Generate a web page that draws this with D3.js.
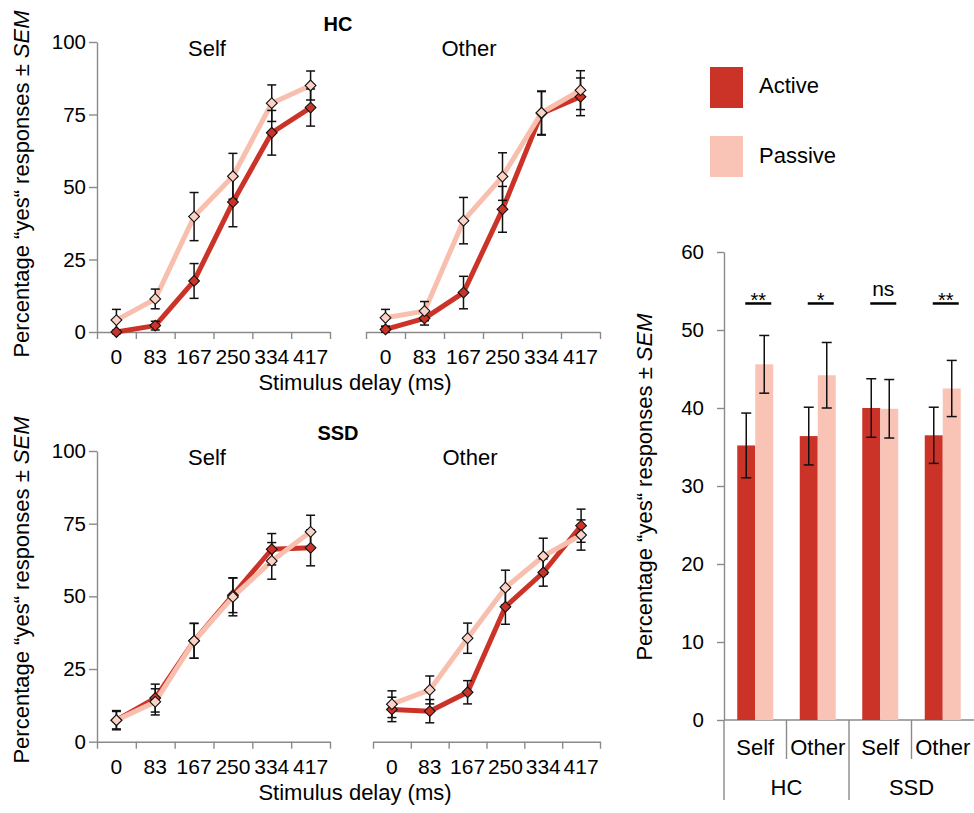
<!DOCTYPE html>
<html>
<head>
<meta charset="utf-8">
<script src="https://cdn.jsdelivr.net/npm/d3@7/dist/d3.min.js"></script>
<style>
  html, body { margin: 0; padding: 0; background: #fff; }
  svg { display: block; font-family: "Liberation Sans", Arial, sans-serif; }
</style>
</head>
<body>
<svg id="chart" width="974" height="813"></svg>
<script>
// ---------- DATA ----------
const delays = ["0", "83", "167", "250", "334", "417"];
const lineTicks = [0, 25, 50, 75, 100];

const hcSelfActive      = [0.0, 2.2, 17.6, 44.8, 68.7, 77.4];
const hcSelfActiveErr   = [0.6, 1.5, 6.0, 8.5, 7.7, 6.4];
const hcSelfPassive     = [4.1, 11.4, 39.8, 53.7, 78.9, 85.0];
const hcSelfPassiveErr  = [3.7, 3.4, 8.3, 7.9, 6.3, 5.0];

const hcOtherActive     = [0.9, 4.7, 13.6, 42.3, 75.4, 81.1];
const hcOtherActiveErr  = [1.0, 2.3, 5.6, 7.9, 7.5, 6.5];
const hcOtherPassive    = [4.9, 7.2, 38.4, 53.6, 75.6, 83.4];
const hcOtherPassiveErr = [2.9, 3.3, 8.0, 8.2, 7.5, 6.7];

const ssdSelfActive     = [7.4, 15.0, 34.7, 50.4, 66.2, 66.7];
const ssdSelfActiveErr  = [3.3, 4.8, 6.0, 6.0, 5.4, 6.2];
const ssdSelfPassive    = [7.4, 13.7, 34.7, 49.8, 62.2, 72.2];
const ssdSelfPassiveErr = [3.0, 4.5, 6.0, 6.5, 6.3, 5.7];

const ssdOtherActive     = [11.1, 10.5, 17.0, 46.4, 58.2, 74.3];
const ssdOtherActiveErr  = [4.2, 4.0, 4.0, 6.0, 4.7, 5.7];
const ssdOtherPassive    = [12.9, 17.8, 35.6, 53.0, 63.8, 71.1];
const ssdOtherPassiveErr = [4.6, 4.8, 5.2, 6.0, 6.2, 5.2];

const barGroups = ["HC", "SSD"];
const barConditions = ["Self", "Other"];
const barSeries = ["Active", "Passive"];
const barActive     = [35.2, 36.4, 40.0, 36.5];
const barActiveErr  = [4.15, 3.7, 3.75, 3.6];
const barPassive    = [45.6, 44.2, 39.9, 42.5];
const barPassiveErr = [3.7, 4.2, 3.75, 3.6];
const significance  = ["**", "*", "ns", "**"];
const barTicks = [0, 10, 20, 30, 40, 50, 60];
const sigLevel = 53.4;

// ---------- STYLE ----------
const activeColor = "#cc3328";
const passiveColor = "#f9c4b6";
const passiveLine = "#f8bfae";
const passiveMarker = "#fbd2c6";
const axisColor = "#8a8a8a";
const LABEL = 22;

const svg = d3.select("#chart");

// ---------- LINE PANELS ----------
const panels = [
  { x0: 97,  x1: 330, yTop: 42,  yBot: 332,   yAxis: true,  title: "Self",  titleX: 207,
    a: hcSelfActive, ae: hcSelfActiveErr, p: hcSelfPassive, pe: hcSelfPassiveErr },
  { x0: 366, x1: 600, yTop: 42,  yBot: 332,   yAxis: false, title: "Other", titleX: 469,
    a: hcOtherActive, ae: hcOtherActiveErr, p: hcOtherPassive, pe: hcOtherPassiveErr },
  { x0: 97,  x1: 330, yTop: 451, yBot: 741.7, yAxis: true,  title: "Self",  titleX: 207,
    a: ssdSelfActive, ae: ssdSelfActiveErr, p: ssdSelfPassive, pe: ssdSelfPassiveErr },
  { x0: 373, x1: 600, yTop: 451, yBot: 741.7, yAxis: false, title: "Other", titleX: 470,
    a: ssdOtherActive, ae: ssdOtherActiveErr, p: ssdOtherPassive, pe: ssdOtherPassiveErr }
];

function styleAxis(g, fs) {
  g.selectAll(".domain").attr("stroke", axisColor).attr("stroke-width", 1.4);
  g.selectAll(".tick line").attr("stroke", axisColor).attr("stroke-width", 1.4);
  g.selectAll(".tick text").attr("fill", "#000").attr("font-size", fs || 20)
    .attr("font-family", '"Liberation Sans", Arial, sans-serif');
}

const diamond = d3.symbol().type(d3.symbolSquare).size(58);

panels.forEach(pn => {
  const x = d3.scaleBand().domain(delays).range([pn.x0, pn.x1]);
  const xb = d3.scaleLinear().domain([0, delays.length]).range([pn.x0, pn.x1]);
  const y = d3.scaleLinear().domain([0, 100]).range([pn.yBot, pn.yTop]);
  const g = svg.append("g");

  const gx = g.append("g").attr("transform", `translate(0,${pn.yBot})`)
    .call(d3.axisBottom(xb).tickValues(d3.range(0, delays.length + 1)).tickFormat("").tickSize(7).tickSizeOuter(0));
  styleAxis(gx);
  const gxl = g.append("g").attr("transform", `translate(0,${pn.yBot})`)
    .call(d3.axisBottom(x).tickSize(0).tickPadding(17));
  gxl.select(".domain").remove();
  styleAxis(gxl, 21);

  if (pn.yAxis) {
    const gy = g.append("g").attr("transform", `translate(${pn.x0},0)`)
      .call(d3.axisLeft(y).tickValues(lineTicks).tickSize(8).tickSizeOuter(0).tickPadding(3));
    styleAxis(gy, 20.5);
  }

  g.append("text").attr("x", pn.titleX).attr("y", pn.yTop + 14)
    .attr("text-anchor", "middle").attr("font-size", LABEL).text(pn.title);

  const cx = i => x(delays[i]) + x.bandwidth() / 2;
  const line = d3.line().x((d, i) => cx(i)).y(d => y(d));

  g.append("path").datum(pn.a).attr("d", line).attr("fill", "none")
    .attr("stroke", activeColor).attr("stroke-width", 5).attr("stroke-linejoin", "round");
  g.append("path").datum(pn.p).attr("d", line).attr("fill", "none")
    .attr("stroke", passiveLine).attr("stroke-width", 5).attr("stroke-linejoin", "round");

  [[pn.a, pn.ae], [pn.p, pn.pe]].forEach(([vals, errs]) => {
    const eg = g.append("g").attr("stroke", "#111").attr("stroke-width", 1.5);
    vals.forEach((v, i) => {
      const lo = y(v - errs[i]), hi = y(v + errs[i]), c = cx(i);
      eg.append("line").attr("x1", c).attr("x2", c).attr("y1", lo).attr("y2", hi);
      eg.append("line").attr("x1", c - 4.5).attr("x2", c + 4.5).attr("y1", lo).attr("y2", lo);
      eg.append("line").attr("x1", c - 4.5).attr("x2", c + 4.5).attr("y1", hi).attr("y2", hi);
    });
  });

  [[pn.a, activeColor], [pn.p, passiveMarker]].forEach(([vals, col]) => {
    g.append("g").selectAll("path").data(vals).join("path")
      .attr("d", diamond)
      .attr("transform", (d, i) => `translate(${cx(i)},${y(d)}) rotate(45)`)
      .attr("fill", col).attr("stroke", "#111").attr("stroke-width", 1.1);
  });
});

svg.append("text").attr("x", 338).attr("y", 31).attr("text-anchor", "middle")
  .attr("font-size", 20).attr("font-weight", "bold").text("HC");
svg.append("text").attr("x", 338).attr("y", 440).attr("text-anchor", "middle")
  .attr("font-size", 20).attr("font-weight", "bold").text("SSD");

[390, 800].forEach(yy => {
  svg.append("text").attr("x", 355).attr("y", yy).attr("text-anchor", "middle")
    .attr("font-size", LABEL).text("Stimulus delay (ms)");
});

function yTitle(xBase, yCenter) {
  const t = svg.append("text")
    .attr("transform", `translate(${xBase},${yCenter}) rotate(-90)`)
    .attr("text-anchor", "middle").attr("font-size", LABEL);
  t.append("tspan").text("Percentage \u201Cyes\u201C responses \u00B1 ");
  t.append("tspan").attr("font-style", "italic").text("SEM");
}
yTitle(29, 184);
yTitle(29, 590);
yTitle(652, 487);

// ---------- BAR CHART ----------
const cats = [];
barGroups.forEach(gr => barConditions.forEach(c => cats.push(gr + "-" + c)));
const bx = d3.scaleBand().domain(cats).range([724, 974]);
const inner = d3.scaleBand().domain(barSeries).range([0, 36]);
const by = d3.scaleLinear().domain([0, 60]).range([720, 252]);

const bg = svg.append("g");
const gby = bg.append("g").attr("transform", "translate(724,0)")
  .call(d3.axisLeft(by).tickValues(barTicks).tickSize(7).tickSizeOuter(0).tickPadding(13));
styleAxis(gby, 20.5);
bg.append("line").attr("x1", 724).attr("x2", 724).attr("y1", by(0)).attr("y2", 800)
  .attr("stroke", axisColor).attr("stroke-width", 1.4);
bg.append("line").attr("x1", 724).attr("x2", 974).attr("y1", by(0)).attr("y2", by(0))
  .attr("stroke", axisColor).attr("stroke-width", 1.4);

cats.forEach((c, i) => {
  if (i === 0) return;
  const xx = bx(c);
  const isGroup = i % barConditions.length === 0;
  bg.append("line").attr("x1", xx).attr("x2", xx).attr("y1", by(0)).attr("y2", isGroup ? 800 : 759)
    .attr("stroke", axisColor).attr("stroke-width", 1.4);
});

const barVals = { Active: barActive, Passive: barPassive };
const barErrs = { Active: barActiveErr, Passive: barPassiveErr };
const barCols = { Active: activeColor, Passive: passiveColor };

cats.forEach((c, i) => {
  const left = bx(c) + bx.bandwidth() / 2 - inner.range()[1] / 2;
  barSeries.forEach(s => {
    const v = barVals[s][i];
    bg.append("rect").attr("x", left + inner(s)).attr("width", inner.bandwidth())
      .attr("y", by(v)).attr("height", by(0) - by(v)).attr("fill", barCols[s]);
  });
  barSeries.forEach(s => {
    const v = barVals[s][i], e = barErrs[s][i];
    const cxx = left + inner(s) + inner.bandwidth() / 2;
    const eg = bg.append("g").attr("stroke", "#111").attr("stroke-width", 1.5);
    eg.append("line").attr("x1", cxx).attr("x2", cxx).attr("y1", by(v - e)).attr("y2", by(v + e));
    [v - e, v + e].forEach(t => eg.append("line").attr("x1", cxx - 5).attr("x2", cxx + 5)
      .attr("y1", by(t)).attr("y2", by(t)));
  });
  const mid = bx(c) + bx.bandwidth() / 2 + 3;
  bg.append("line").attr("x1", mid - 13).attr("x2", mid + 13).attr("y1", by(sigLevel)).attr("y2", by(sigLevel))
    .attr("stroke", "#000").attr("stroke-width", 2.5);
  const isNs = significance[i] === "ns";
  bg.append("text").attr("x", mid).attr("y", isNs ? by(sigLevel) - 7 : by(sigLevel) + 4)
    .attr("text-anchor", "middle").attr("font-size", isNs ? 21 : 20).text(significance[i]);
  bg.append("text").attr("x", bx(c) + bx.bandwidth() / 2).attr("y", 755)
    .attr("text-anchor", "middle").attr("font-size", LABEL).text(barConditions[i % barConditions.length]);
});

barGroups.forEach(gr => {
  const a = bx(gr + "-" + barConditions[0]);
  const b = bx(gr + "-" + barConditions[barConditions.length - 1]) + bx.bandwidth();
  bg.append("text").attr("x", (a + b) / 2).attr("y", 795).attr("text-anchor", "middle")
    .attr("font-size", LABEL).text(gr);
});

// ---------- LEGEND ----------
const legend = svg.append("g");
barSeries.forEach((s, i) => {
  legend.append("rect").attr("x", 710).attr("y", 67 + i * 69).attr("width", 33).attr("height", 41)
    .attr("fill", barCols[s]);
  legend.append("text").attr("x", 759).attr("y", 93 + i * 69.5).attr("font-size", LABEL).text(s);
});
</script>
</body>
</html>
